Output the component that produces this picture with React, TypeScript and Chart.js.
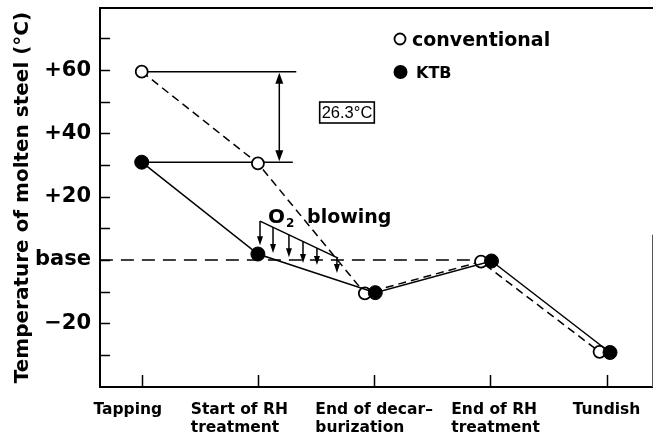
import React, { useEffect, useRef } from 'react';
import { Chart, registerables } from 'chart.js';

Chart.register(...registerables);

// ---- data ----
const categories: string[][] = [
  ['Tapping'],
  ['Start of RH', 'treatment'],
  ['End of decar–', 'burization'],
  ['End of RH', 'treatment'],
  ['Tundish'],
];
const categoryPositions = [0, 1, 2, 3, 4];
// horizontal shift of each label block (in category units, layout only)
const categoryLabelShift = [-0.12, -0.16, 0, 0.045, 0];

const conventionalX = [0, 1, 1.92, 2.92, 3.94];
const conventionalY = [59.5, 30.5, -10.5, -0.5, -29];
const ktbX = [0, 1, 2.01, 3.01, 4.03];
const ktbY = [30.9, 1.9, -10.3, -0.3, -29.2];

const yTickValues = [-30, -20, -10, 0, 10, 20, 30, 40, 50, 60, 70];
const yLabelValues = [-20, 0, 20, 40, 60];
const yLabelTexts = ['−20', 'base', '+20', '+40', '+60'];

// annotation values
const refLine1X = [0, 1.33];
const refLine1Y = [59.5, 59.5];
const refLine2X = [0, 1.3];
const refLine2Y = [30.9, 30.9];
const diffArrowX = 1.184;
const diffArrowY = [59.5, 30.9];
const diffLabel = '26.3°C';
const baseLineX = [-0.36, 2.92];
const baseLineY = [0, 0];
const o2EdgeX = [1.018, 1.69];
const o2EdgeY = [12.3, 0.6];
const o2ArrowX = [1.018, 1.13, 1.267, 1.388, 1.508, 1.68];
const o2ArrowTop = [12.3, 10.4, 8.0, 6.0, 3.8, 0.8];
const o2ArrowTip = [4.7, 2.2, 0.9, -0.9, -1.6, -4.1];

const FONT = '"DejaVu Sans", sans-serif';

function arrowHead(ctx: CanvasRenderingContext2D, x: number, y: number, dir: number, w: number, l: number) {
  ctx.beginPath();
  ctx.moveTo(x, y);
  ctx.lineTo(x - w / 2, y - dir * l);
  ctx.lineTo(x + w / 2, y - dir * l);
  ctx.closePath();
  ctx.fill();
}

const figurePlugin = {
  id: 'figure',
  afterDraw(chart: any) {
    const { ctx, chartArea: ca, scales } = chart;
    const xs = scales.x;
    const ys = scales.y;
    const px = (v: number) => xs.getPixelForValue(v);
    const py = (v: number) => ys.getPixelForValue(v);
    ctx.save();
    ctx.strokeStyle = '#000';
    ctx.fillStyle = '#000';
    ctx.setLineDash([]);

    // frame
    ctx.lineWidth = 2;
    ctx.beginPath();
    ctx.moveTo(ca.right, ca.top);
    ctx.lineTo(ca.left, ca.top);
    ctx.lineTo(ca.left, ca.bottom);
    ctx.lineTo(ca.right, ca.bottom);
    ctx.stroke();
    ctx.lineWidth = 1;
    ctx.strokeStyle = '#555';
    ctx.beginPath();
    ctx.moveTo(ca.right - 0.5, py(8));
    ctx.lineTo(ca.right - 0.5, ca.bottom);
    ctx.stroke();
    ctx.strokeStyle = '#000';

    // inward ticks
    ctx.lineWidth = 1.5;
    for (const t of ys.ticks) {
      const yy = Math.round(py(t.value)) + 0.5;
      ctx.beginPath();
      ctx.moveTo(ca.left, yy);
      ctx.lineTo(ca.left + 10, yy);
      ctx.stroke();
    }
    for (const v of categoryPositions) {
      const xx = Math.round(px(v)) + 0.5;
      ctx.beginPath();
      ctx.moveTo(xx, ca.bottom);
      ctx.lineTo(xx, ca.bottom - 12);
      ctx.stroke();
    }

    // x category labels (left-aligned blocks)
    ctx.font = `bold 15.5px ${FONT}`;
    ctx.textBaseline = 'alphabetic';
    ctx.textAlign = 'left';
    categories.forEach((lines, i) => {
      const w = Math.max(...lines.map((s) => ctx.measureText(s).width));
      const left = px(categoryPositions[i] + categoryLabelShift[i]) - w / 2;
      lines.forEach((s, j) => ctx.fillText(s, left, ca.bottom + 27 + j * 18));
    });

    // difference double arrow
    const ax = px(diffArrowX);
    const a1 = py(diffArrowY[0]);
    const a2 = py(diffArrowY[1]);
    ctx.lineWidth = 1.5;
    ctx.beginPath();
    ctx.moveTo(ax, a1 + 4);
    ctx.lineTo(ax, a2 - 4);
    ctx.stroke();
    arrowHead(ctx, ax, a1 + 1, -1, 8, 11);
    arrowHead(ctx, ax, a2 - 1, 1, 8, 11);

    // 26.3 box
    ctx.font = `16.5px "Liberation Sans", Arial, sans-serif`;
    const tw = ctx.measureText(diffLabel).width;
    const bx = 347;
    const by = 112.5;
    ctx.lineWidth = 1.6;
    ctx.strokeRect(bx - tw / 2 - 2, by - 10.5, tw + 4, 21);
    ctx.textAlign = 'center';
    ctx.textBaseline = 'middle';
    ctx.fillText(diffLabel, bx, by + 1);

    // legend
    ctx.textAlign = 'left';
    ctx.textBaseline = 'alphabetic';
    ctx.lineWidth = 1.8;
    ctx.fillStyle = '#fff';
    ctx.beginPath();
    ctx.arc(400, 39, 5.5, 0, Math.PI * 2);
    ctx.fill();
    ctx.stroke();
    ctx.fillStyle = '#000';
    ctx.font = `bold 19px ${FONT}`;
    ctx.fillText('conventional', 412, 46);
    ctx.beginPath();
    ctx.arc(400.5, 72, 7, 0, Math.PI * 2);
    ctx.fill();
    ctx.font = `bold 16px ${FONT}`;
    ctx.fillText('KTB', 416, 78);

    // O2 blowing arrows
    ctx.lineWidth = 1.5;
    o2ArrowX.forEach((v, i) => {
      const xx = px(v);
      const top = py(o2ArrowTop[i]);
      const tip = py(o2ArrowTip[i]);
      ctx.beginPath();
      ctx.moveTo(xx, top);
      ctx.lineTo(xx, tip - 6);
      ctx.stroke();
      arrowHead(ctx, xx, tip, 1, 6, 9);
    });

    // O2 blowing label
    const ox = px(1.087);
    const oy = py(11.7);
    ctx.font = `bold 20px ${FONT}`;
    ctx.fillText('O', ox, oy);
    const ow = ctx.measureText('O').width;
    ctx.font = `bold 12px ${FONT}`;
    ctx.fillText('2', ox + ow + 1, oy + 4);
    ctx.font = `bold 19px ${FONT}`;
    ctx.fillText('blowing', ox + ow + 22, oy);

    ctx.restore();
  },
};

export default function App() {
  const ref = useRef<HTMLCanvasElement | null>(null);
  useEffect(() => {
    if (!ref.current) return;
    const line = (xv: number[], yv: number[], dash: number[], width: number) => ({
      data: xv.map((x, i) => ({ x, y: yv[i] })),
      borderColor: '#000',
      borderWidth: width,
      borderDash: dash,
      pointRadius: 0,
      fill: false,
      tension: 0,
    });
    const chart = new Chart(ref.current, {
      type: 'line',
      data: {
        datasets: [
          {
            label: 'KTB',
            data: ktbX.map((x, i) => ({ x, y: ktbY[i] })),
            borderColor: '#000',
            borderWidth: 1.5,
            pointRadius: 7,
            pointBackgroundColor: '#000',
            pointBorderColor: '#000',
            pointBorderWidth: 1,
            fill: false,
            tension: 0,
          },
          {
            label: 'conventional',
            data: conventionalX.map((x, i) => ({ x, y: conventionalY[i] })),
            borderColor: '#000',
            borderWidth: 1.5,
            borderDash: [8, 5],
            pointRadius: 6,
            pointBackgroundColor: '#fff',
            pointBorderColor: '#000',
            pointBorderWidth: 1.8,
            fill: false,
            tension: 0,
          },
          line(refLine1X, refLine1Y, [], 1.5),
          line(refLine2X, refLine2Y, [], 1.5),
          line(baseLineX, baseLineY, [13, 8], 1.4),
          line(o2EdgeX, o2EdgeY, [], 1.5),
        ] as any,
      },
      options: {
        animation: false,
        responsive: false,
        events: [],
        layout: { autoPadding: false, padding: { top: 8, right: 1, left: 0, bottom: 0 } },
        plugins: { legend: { display: false }, tooltip: { enabled: false } },
        scales: {
          x: {
            type: 'linear',
            min: -0.359,
            max: 4.4,
            grid: { display: false },
            border: { display: false },
            ticks: { display: false },
            afterFit: (s: any) => {
              s.height = 59;
              s.paddingLeft = 0;
              s.paddingRight = 0;
            },
          },
          y: {
            type: 'linear',
            min: -40.1,
            max: 79.6,
            grid: { display: false, drawTicks: false },
            border: { display: false },
            afterBuildTicks: (s: any) => {
              s.ticks = yTickValues.map((value) => ({ value }));
            },
            ticks: {
              autoSkip: false,
              padding: 9,
              color: '#000',
              font: { family: FONT, size: 21, weight: 'bold' },
              callback: (v: any) => {
                const k = yLabelValues.indexOf(Number(v));
                return k >= 0 ? yLabelTexts[k] : '';
              },
            },
            title: {
              display: true,
              text: 'Temperature of molten steel (°C)',
              color: '#000',
              font: { family: FONT, size: 20, weight: 'bold' },
              padding: { top: 11, bottom: 0 },
            },
            afterFit: (s: any) => {
              s.width = 100;
              s.paddingTop = 0;
              s.paddingBottom = 0;
            },
          },
        },
      } as any,
      plugins: [figurePlugin],
    });
    return () => chart.destroy();
  }, []);
  return (
    <div style={{ position: 'fixed', left: 0, top: 0, width: 654, height: 446, background: '#fff' }}>
      <canvas ref={ref} width={654} height={446} style={{ width: 654, height: 446, display: 'block' }} />
    </div>
  );
}
